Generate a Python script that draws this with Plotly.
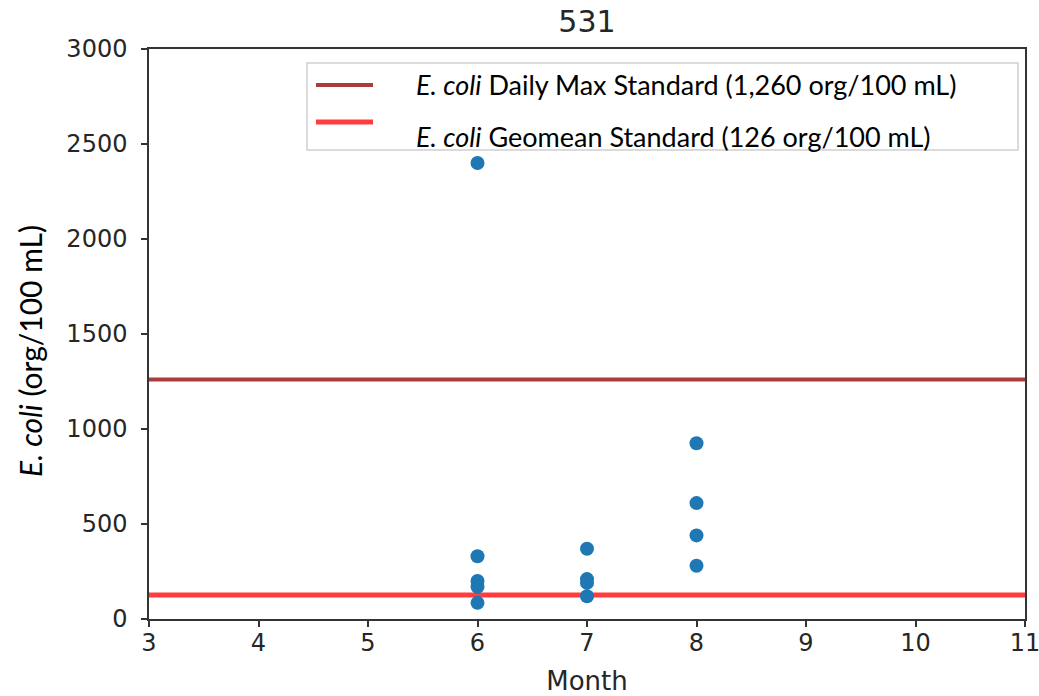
import plotly.graph_objects as go

# Sample results for site 531
months = [6, 6, 6, 6, 6, 7, 7, 7, 7, 8, 8, 8, 8]
ecoli = [2400, 330, 200, 170, 85, 370, 210, 190, 120, 925, 610, 440, 280]

# Water quality standards (org/100 mL)
daily_max = 1260
geomean = 126
x_span = [3, 11]

x_ticks = [3, 4, 5, 6, 7, 8, 9, 10, 11]
y_ticks = [0, 500, 1000, 1500, 2000, 2500, 3000]

tick_font = dict(family="DejaVu Sans", size=24, color="#262626")
label_font = "Lato, Calibri, Carlito, sans-serif"

# Plot area in pixels
L, R, T, B = 149, 1025, 49, 619

fig = go.Figure()

fig.add_trace(go.Scatter(
    x=x_span, y=[daily_max, daily_max], mode="lines",
    line=dict(color="rgba(160,40,40,0.9)", width=4),
    showlegend=False, hoverinfo="skip"))
fig.add_trace(go.Scatter(
    x=x_span, y=[geomean, geomean], mode="lines",
    line=dict(color="rgba(255,40,40,0.9)", width=5),
    showlegend=False, hoverinfo="skip"))
fig.add_trace(go.Scatter(
    x=months, y=ecoli, mode="markers",
    marker=dict(color="#1f77b4", size=14, line=dict(width=0)),
    showlegend=False))

# Legend box drawn in paper coordinates
def px_x(px):
    return (px - L) / (R - L)

def px_y(py):
    return (B - py) / (B - T)

fig.add_shape(type="rect", xref="paper", yref="paper",
              x0=px_x(307), x1=px_x(1018), y0=px_y(150), y1=px_y(63),
              line=dict(color="#d0d0d0", width=1.5), fillcolor="rgba(255,255,255,0.85)",
              layer="above")
fig.add_shape(type="line", xref="paper", yref="paper",
              x0=px_x(316), x1=px_x(373), y0=px_y(85), y1=px_y(85),
              line=dict(color="rgba(160,40,40,0.9)", width=4), layer="above")
fig.add_shape(type="line", xref="paper", yref="paper",
              x0=px_x(316), x1=px_x(373), y0=px_y(122), y1=px_y(122),
              line=dict(color="rgba(255,40,40,0.9)", width=5), layer="above")

legend_labels = [
    "<i>E. coli</i> Daily Max Standard (1,260 org/100 mL)",
    "<i>E. coli</i> Geomean Standard (126 org/100 mL)",
]
for label, ypix in zip(legend_labels, [85, 136]):
    fig.add_annotation(xref="paper", yref="paper", x=px_x(414), y=px_y(ypix),
                       xanchor="left", yanchor="middle", showarrow=False,
                       text=label, font=dict(family=label_font, size=27, color="black"))

# Y-axis title
fig.add_annotation(xref="paper", yref="paper", x=px_x(30), y=px_y(351),
                   xanchor="center", yanchor="middle", showarrow=False, textangle=-90,
                   text="<i>E. coli</i> (org/100 mL)",
                   font=dict(family=label_font, size=30, color="black"))

fig.update_layout(
    width=1039, height=696,
    margin=dict(l=L, r=1039 - R, t=T, b=696 - B),
    plot_bgcolor="white", paper_bgcolor="white",
    title=dict(text="531", x=0.5, xref="paper", xanchor="center",
               y=1 - 21 / 696, yanchor="middle",
               font=dict(family="DejaVu Sans", size=30, color="#262626")),
    xaxis=dict(range=x_span, tickvals=x_ticks, ticks="outside", ticklen=6, tickwidth=1.5,
               tickcolor="#333", showline=True, linecolor="#333", linewidth=1.5, mirror=True,
               showgrid=False, zeroline=False, tickfont=tick_font, automargin=False,
               ticklabeloverflow="allow", ticklabelstandoff=-5,
               title=dict(text="Month", font=dict(family="DejaVu Sans", size=26, color="#262626"),
                          standoff=18)),
    yaxis=dict(range=[0, 3000], tickvals=y_ticks, ticks="outside", ticklen=6, tickwidth=1.5,
               tickcolor="#333", showline=True, linecolor="#333", linewidth=1.5, mirror=True,
               showgrid=False, zeroline=False, tickfont=tick_font, automargin=False,
               ticklabeloverflow="allow", ticklabelstandoff=9),
)

fig.write_html("out.html")
